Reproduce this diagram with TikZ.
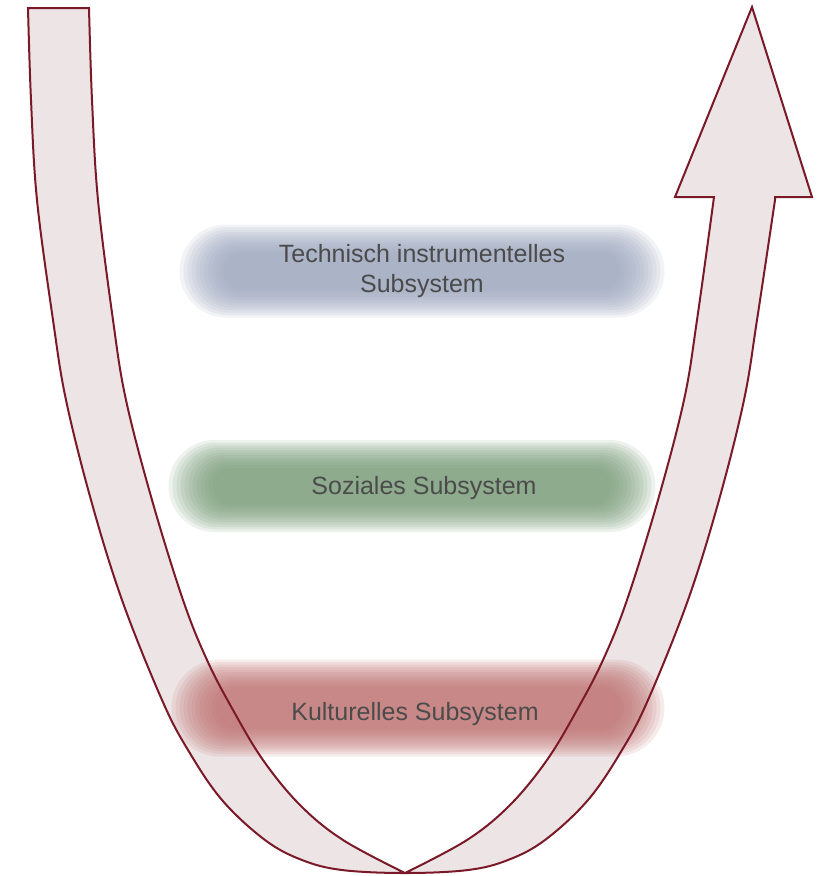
\documentclass[tikz,border=0pt]{standalone}
\usepackage{fontspec}
\setmainfont{Liberation Sans}
\definecolor{arrowline}{RGB}{122,26,40}
\definecolor{arrowfill}{RGB}{237,228,229}
\definecolor{blobblue}{RGB}{155,165,190}
\definecolor{blobgreen}{RGB}{120,155,120}
\definecolor{blobred}{RGB}{192,112,112}
\definecolor{labeltext}{RGB}{75,75,75}
\newcommand\uarrowpath{(28,8) -- plot[smooth, tension=0.6] coordinates {(28,8) (31,100) (37,200) (53,320) (66,400) (91,500) (122,600) (162,700) (188,750) (222,800) (265,840) (302,860) (342,870) (405,873) (468,870) (508,860) (545,840) (588,800) (622,750) (648,700) (688,600) (719,500) (744,400) (757,320) (775,200)} -- (775,197) -- (812,197) -- (752,7) -- (675,197) -- (714,197) -- plot[smooth, tension=0.6] coordinates {(714,197) (697,320) (684,400) (658,500) (627,600) (603,660) (577,710) (547,760) (510,805) (467,840) (405,873)} -- plot[smooth, tension=0.6] coordinates {(405,873) (343,840) (300,805) (263,760) (233,710) (207,660) (183,600) (152,500) (126,400) (113,320) (98,200) (92,100) (89,8)} -- cycle}
\newcommand\myblob[5]{%
  \foreach \k in {0,...,11}{%
    \pgfmathsetmacro\rc{#4/2-\k*2.5}%
    \fill[#5, opacity=0.13, rounded corners=\rc pt]
      ({#1-#3/2+\k*4},{#2-#4/2+\k*2.5}) rectangle ({#1+#3/2-\k*4},{#2+#4/2-\k*2.5});
  }}
\tikzset{
  lbl/.style={text=labeltext, font=\fontsize{25}{30}\selectfont, align=center, inner sep=0pt}
}
\begin{document}
\begin{tikzpicture}[x=1pt,y=-1pt]
\useasboundingbox (0,0) rectangle (821,876);
\fill[white] (0,0) rectangle (821,876);
\fill[arrowfill] \uarrowpath;
\myblob{422}{271}{485}{93}{blobblue}
\myblob{412}{486}{487}{92}{blobgreen}
\myblob{418}{708}{493}{97}{blobred}
\draw[arrowline, line width=2pt] \uarrowpath;
\node[lbl] (tech) at (422,271) {Technisch instrumentelles\\Subsystem};
\node[lbl] (soz) at (424,488) {Soziales Subsystem};
\node[lbl] (kult) at (415,714) {Kulturelles Subsystem};
\end{tikzpicture}
\end{document}
